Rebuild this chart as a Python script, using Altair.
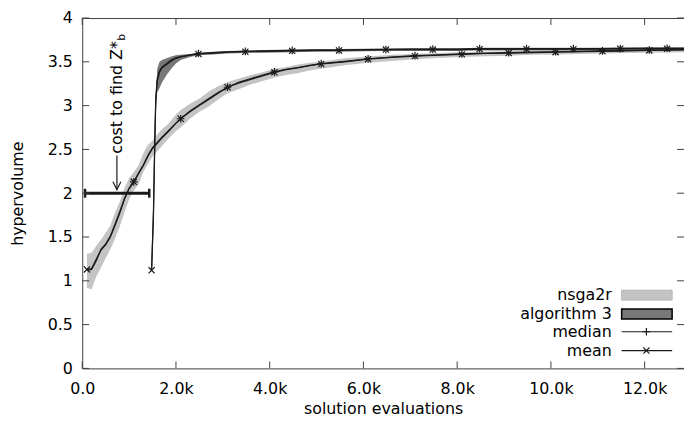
import altair as alt
import pandas as pd

FONT = "DejaVu Sans"
AX = "#404040"
INK = "#1a1a1a"

# ---------------- data ----------------
NSGA_X = [100, 200, 300, 400, 500, 600, 700, 800, 900, 1000, 1100, 1200, 1300, 1400, 1500, 1600, 1700,
          1850, 2000, 2100, 2300, 2500, 2700, 2900, 3100,
          3350, 3600, 3850, 4100, 4350, 4600, 4850, 5100,
          5600, 6100, 6600, 7100, 7600, 8100, 8600, 9100, 9600, 10100, 10600, 11100, 11600, 12100,
          12840]
NSGA_MEAN = [1.13, 1.14, 1.25, 1.35, 1.41, 1.50, 1.63, 1.77, 1.93, 2.05, 2.13, 2.22, 2.31, 2.42, 2.51, 2.57, 2.63,
             2.71, 2.80, 2.85, 2.93, 3.00, 3.07, 3.14, 3.21,
             3.26, 3.30, 3.34, 3.38, 3.41, 3.43, 3.455, 3.475,
             3.50, 3.53, 3.55, 3.565, 3.575, 3.585, 3.595, 3.60, 3.605, 3.61, 3.615, 3.62, 3.625, 3.63,
             3.635]
NSGA_MEDIAN = [1.12, 1.13, 1.23, 1.36, 1.42, 1.51, 1.65, 1.79, 1.94, 2.06, 2.13, 2.23, 2.32, 2.43, 2.52, 2.58, 2.64,
               2.72, 2.80, 2.85, 2.94, 3.01, 3.08, 3.15, 3.21,
               3.27, 3.31, 3.35, 3.385, 3.415, 3.435, 3.46, 3.48,
               3.505, 3.535, 3.555, 3.57, 3.58, 3.59, 3.60, 3.605, 3.61, 3.615, 3.62, 3.625, 3.63, 3.635,
               3.64]
NSGA_LO = [0.92, 0.90, 1.05, 1.15, 1.26, 1.36, 1.48, 1.62, 1.78, 1.93, 2.03, 2.10, 2.24, 2.33, 2.42, 2.48, 2.54,
           2.63, 2.71, 2.75, 2.85, 2.93, 2.99, 3.07, 3.14,
           3.19, 3.24, 3.28, 3.32, 3.35, 3.37, 3.40, 3.42,
           3.46, 3.49, 3.51, 3.53, 3.545, 3.555, 3.565, 3.57, 3.58, 3.585, 3.59, 3.595, 3.60, 3.605,
           3.61]
NSGA_HI = [1.31, 1.32, 1.40, 1.47, 1.55, 1.63, 1.78, 1.90, 2.06, 2.17, 2.24, 2.32, 2.45, 2.55, 2.60, 2.67, 2.73,
           2.80, 2.90, 2.95, 3.02, 3.08, 3.16, 3.22, 3.27,
           3.31, 3.35, 3.38, 3.42, 3.44, 3.47, 3.49, 3.50,
           3.54, 3.56, 3.58, 3.59, 3.60, 3.61, 3.615, 3.62, 3.625, 3.63, 3.635, 3.635, 3.64, 3.64,
           3.645]
NSGA_MEAN_MARKS = [100, 1100, 2100, 3100, 4100, 5100, 6100, 7100, 8100, 9100, 10100, 11100, 12100]
NSGA_MEDIAN_MARKS = [1100, 2100, 3100, 4100, 5100, 6100, 7100, 8100, 9100, 10100, 11100, 12100]

ALG_X = [1480, 1520, 1550, 1570, 1600, 1650, 1700, 1800, 1900, 2000, 2100, 2300, 2480,
         2800, 3100, 3480, 3900, 4480, 5000, 5480, 6000, 6480, 7000, 7480, 8000, 8480, 9000,
         9480, 10000, 10480, 11000, 11480, 12000, 12480, 12840]
ALG_MEAN = [1.12, 1.75, 2.60, 3.05, 3.28, 3.38, 3.43, 3.47, 3.51, 3.54, 3.555, 3.575, 3.59,
            3.60, 3.61, 3.615, 3.62, 3.625, 3.63, 3.63, 3.635, 3.64, 3.64, 3.64, 3.64, 3.645, 3.645,
            3.645, 3.645, 3.645, 3.645, 3.65, 3.65, 3.65, 3.65]
ALG_MEDIAN = [1.12, 1.80, 2.70, 3.10, 3.30, 3.40, 3.44, 3.48, 3.52, 3.545, 3.56, 3.58, 3.595,
              3.605, 3.615, 3.62, 3.625, 3.63, 3.635, 3.635, 3.64, 3.64, 3.645, 3.645, 3.645, 3.65, 3.65,
              3.65, 3.65, 3.65, 3.65, 3.65, 3.655, 3.655, 3.655]
ALG_LO = [1.12, 1.75, 2.60, 3.00, 3.15, 3.20, 3.26, 3.35, 3.42, 3.48, 3.52, 3.555, 3.575,
          3.585, 3.595, 3.60, 3.605, 3.61, 3.615, 3.615, 3.62, 3.625, 3.625, 3.625, 3.625, 3.63, 3.63,
          3.63, 3.63, 3.63, 3.63, 3.635, 3.635, 3.635, 3.635]
ALG_HI = [1.12, 1.80, 2.70, 3.10, 3.42, 3.50, 3.52, 3.54, 3.56, 3.575, 3.58, 3.59, 3.605,
          3.615, 3.625, 3.63, 3.635, 3.64, 3.645, 3.645, 3.65, 3.655, 3.655, 3.655, 3.655, 3.66, 3.66,
          3.66, 3.66, 3.66, 3.66, 3.665, 3.665, 3.665, 3.665]
ALG_MEAN_MARKS = [1480, 2480, 3480, 4480, 5480, 6480, 7480, 8480, 9480, 10480, 11480, 12480]
ALG_MEDIAN_MARKS = [2480, 3480, 4480, 5480, 6480, 7480, 8480, 9480, 10480, 11480, 12480]

X_TICKS = [0, 2000, 4000, 6000, 8000, 10000, 12000]
Y_TICKS = [0, 0.5, 1, 1.5, 2, 2.5, 3, 3.5, 4]
X_MAX = 12840
Y_MAX = 4

COST_LO = [60]
COST_HI = [1430]
COST_Y = [2.0]
ARROW_X = [740]
ARROW_FROM = [2.43]
ARROW_TO = [2.04]
NOTE_TEXT = ["cost to find Z*"]
NOTE_SUB = ["b"]
NOTE_Y = [2.45]
SUB_Y = [3.74]

LEGEND_LABELS = ["nsga2r", "algorithm 3", "median", "mean"]

# ---------------- layout ----------------
W, H = 608, 354
TICK = 7
PLUS = "M-1,0L1,0M0,-1L0,1"
CROSS = "M-0.8,-0.8L0.8,0.8M-0.8,0.8L0.8,-0.8"
ARROWHEAD = "M-0.5,-1L0,0L0.5,-1"

nsga = pd.DataFrame({"x": NSGA_X, "mean": NSGA_MEAN, "median": NSGA_MEDIAN, "lo": NSGA_LO, "hi": NSGA_HI})
alg = pd.DataFrame({"x": ALG_X, "mean": ALG_MEAN, "median": ALG_MEDIAN, "lo": ALG_LO, "hi": ALG_HI})
dummy = alt.Data(values=[{}])


def xenc(field):
    return alt.X(field, type="quantitative",
                 scale=alt.Scale(domain=[0, X_MAX], nice=False, zero=False),
                 title="solution evaluations",
                 axis=alt.Axis(values=X_TICKS, ticks=False, tickSize=0, grid=False, labelFlush=False,
                               labelExpr="datum.value == 0 ? '0.0' : format(datum.value / 1000, '.1f') + 'k'",
                               labelPadding=12, labelFont=FONT, labelFontSize=16, labelColor="black",
                               domainColor=AX, titleFont=FONT, titleFontSize=16, titleFontWeight="normal",
                               titleColor="black", titleY=41, titleBaseline="middle"))


def yenc(field):
    return alt.Y(field, type="quantitative",
                 scale=alt.Scale(domain=[0, Y_MAX], nice=False, zero=False),
                 title="hypervolume",
                 axis=alt.Axis(values=Y_TICKS, ticks=False, tickSize=0, grid=False, format="~g",
                               labelPadding=10, labelFont=FONT, labelFontSize=16, labelColor="black",
                               domainColor=AX, titleFont=FONT, titleFontSize=16, titleFontWeight="normal",
                               titleColor="black", titleX=-65, titleY=H / 2, titleBaseline="middle",
                               titleAngle=270, titleAlign="center"))


layers = []

# bands
layers.append(alt.Chart(nsga).mark_area(color="#c4c4c4", opacity=1).encode(x=xenc("x"), y=yenc("lo"), y2="hi"))
layers.append(alt.Chart(alg).mark_area(color="#787878", opacity=1).encode(x=xenc("x"), y=yenc("lo"), y2="hi"))

# lines
for df in (nsga, alg):
    for stat in ("median", "mean"):
        layers.append(alt.Chart(df).mark_line(color=INK, strokeWidth=1.2)
                      .encode(x=xenc("x"), y=yenc(stat)))

# markers
for df, marks, stat, shape in ((nsga, NSGA_MEAN_MARKS, "mean", CROSS),
                               (nsga, NSGA_MEDIAN_MARKS, "median", PLUS),
                               (alg, ALG_MEAN_MARKS, "mean", CROSS),
                               (alg, ALG_MEDIAN_MARKS, "median", PLUS)):
    sub = df[df["x"].isin(marks)]
    layers.append(alt.Chart(sub).mark_point(shape=shape, filled=False, size=60, color=INK, strokeWidth=1.2, opacity=1)
                  .encode(x=xenc("x"), y=yenc(stat)))

# annotation: cost errorbar
cost = pd.DataFrame({"lo": COST_LO, "hi": COST_HI, "y": COST_Y})
layers.append(alt.Chart(cost).mark_rule(color=INK, strokeWidth=3).encode(x=xenc("lo"), x2="hi", y=yenc("y")))
caps = pd.DataFrame({"x": COST_LO + COST_HI, "y": COST_Y * 2})
layers.append(alt.Chart(caps).mark_tick(orient="vertical", color=INK, size=9, thickness=2.5, opacity=1)
              .encode(x=xenc("x"), y=yenc("y")))

# annotation: arrow + text
arrow = pd.DataFrame({"x": ARROW_X, "y": ARROW_FROM, "y2": ARROW_TO})
layers.append(alt.Chart(arrow).mark_rule(color=INK, strokeWidth=1.2).encode(x=xenc("x"), y=yenc("y"), y2="y2"))
head = pd.DataFrame({"x": ARROW_X, "y": ARROW_TO})
layers.append(alt.Chart(head).mark_point(shape=ARROWHEAD, filled=False, size=256, color=INK, strokeWidth=1.2, opacity=1)
              .encode(x=xenc("x"), y=yenc("y")))
note = pd.DataFrame({"x": ARROW_X, "y": NOTE_Y, "t": NOTE_TEXT})
layers.append(alt.Chart(note).mark_text(angle=270, align="left", baseline="middle", font=FONT, fontSize=16, color="black")
              .encode(x=xenc("x"), y=yenc("y"), text="t"))
sub_note = pd.DataFrame({"x": ARROW_X, "y": SUB_Y, "t": NOTE_SUB})
layers.append(alt.Chart(sub_note).mark_text(angle=270, align="left", baseline="middle", font=FONT, fontSize=11,
                                            color="black", dy=5)
              .encode(x=xenc("x"), y=yenc("y"), text="t"))

# inward ticks and top border
xt = pd.DataFrame({"v": X_TICKS})
yt = pd.DataFrame({"v": Y_TICKS})
layers.append(alt.Chart(xt).mark_rule(color=AX, strokeWidth=1)
              .encode(x=xenc("v"), y=alt.value(H), y2=alt.value(H - TICK)))
layers.append(alt.Chart(xt).mark_rule(color=AX, strokeWidth=1)
              .encode(x=xenc("v"), y=alt.value(0), y2=alt.value(TICK)))
layers.append(alt.Chart(yt).mark_rule(color=AX, strokeWidth=1)
              .encode(y=yenc("v"), x=alt.value(0), x2=alt.value(TICK)))
layers.append(alt.Chart(yt).mark_rule(color=AX, strokeWidth=1)
              .encode(y=yenc("v"), x=alt.value(W - TICK), x2=alt.value(W)))
layers.append(alt.Chart(dummy).mark_rule(color=AX, strokeWidth=1)
              .encode(x=alt.value(0), x2=alt.value(W), y=alt.value(0.5)))

# legend (gnuplot style, inside bottom right)
LX_TEXT, LX0, LX1, LXM = 535, 545, 596, 570
LY = [280, 299, 317, 336]
for label, ly in zip(LEGEND_LABELS, LY):
    layers.append(alt.Chart(dummy).mark_text(align="right", baseline="middle", font=FONT, fontSize=16, color="black")
                  .encode(x=alt.value(LX_TEXT), y=alt.value(ly), text=alt.value(label)))
layers.append(alt.Chart(dummy).mark_rect(fill="#c4c4c4", stroke="#b4b4b4", strokeWidth=1)
              .encode(x=alt.value(LX0), x2=alt.value(LX1), y=alt.value(LY[0] - 5), y2=alt.value(LY[0] + 5)))
layers.append(alt.Chart(dummy).mark_rect(fill="#787878", stroke="black", strokeWidth=1.5)
              .encode(x=alt.value(LX0), x2=alt.value(LX1), y=alt.value(LY[1] - 5), y2=alt.value(LY[1] + 5)))
for ly, shape in ((LY[2], PLUS), (LY[3], CROSS)):
    layers.append(alt.Chart(dummy).mark_rule(color=INK, strokeWidth=1.2)
                  .encode(x=alt.value(LX0), x2=alt.value(LX1), y=alt.value(ly)))
    layers.append(alt.Chart(dummy).mark_point(shape=shape, filled=False, size=60, color=INK, strokeWidth=1.2, opacity=1)
                  .encode(x=alt.value(LXM), y=alt.value(ly)))

chart = (alt.layer(*layers)
         .properties(width=W, height=H, autosize="none",
                     padding={"left": 75, "top": 8, "right": 0, "bottom": 50})
         .configure_view(stroke=None)
         .configure_axis(domainWidth=1))

chart.save("out.html", embed_options={"renderer": "svg", "actions": False})
